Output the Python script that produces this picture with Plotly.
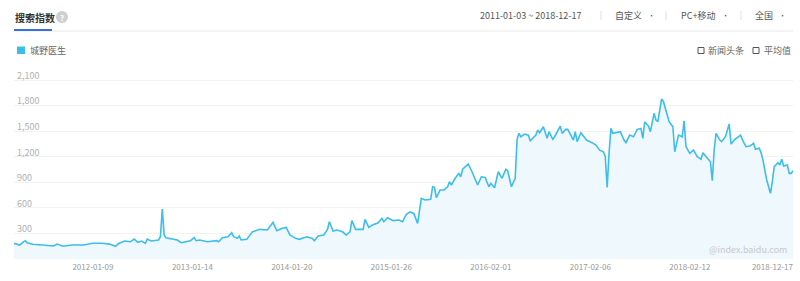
import pandas as pd
import plotly.graph_objects as go

# ---------------- data ----------------
start_date = "2011-01-03"
week_offsets = [0, 3, 5, 6, 7, 10, 15, 21, 23, 26, 31, 37, 42, 47, 51, 54, 56, 59, 62, 64,
                66, 68, 70, 71, 73, 77, 78, 79, 80, 81, 87, 89, 94, 96, 97, 99, 103, 108, 109, 111,
                114, 116, 117, 119, 120, 121, 124, 126, 127, 131, 135, 138, 140, 143, 145, 147, 150, 152, 154, 156,
                159, 160, 162, 165, 167, 168, 170, 172, 175, 177, 179, 180, 182, 186, 187, 189, 191, 194, 196, 197,
                199, 202, 205, 207, 209, 211, 213, 215, 217, 219, 222, 223, 224, 225, 227, 229, 231, 232, 233, 235,
                237, 238, 239, 242, 244, 246, 247, 249, 251, 253, 254, 256, 258, 260, 262, 263, 264, 265, 267, 268,
                269, 270, 272, 274, 275, 278, 279, 280, 282, 283, 284, 285, 287, 288, 291, 292, 294, 295, 296, 298,
                299, 300, 302, 303, 305, 308, 310, 312, 314, 315, 316, 317, 318, 319, 322, 323, 325, 326, 328, 330,
                332, 334, 335, 336, 338, 339, 341, 342, 343, 344, 345, 346, 348, 349, 351, 352, 354, 356, 357, 358,
                360, 362, 364, 366, 367, 369, 371, 372, 373, 374, 376, 377, 379, 381, 382, 384, 386, 387, 389, 390,
                392, 394, 395, 397, 398, 399, 401, 402, 403, 404, 405, 407, 408, 409, 410, 412, 413, 414, 415]
search_index = [183, 163, 201, 214, 190, 171, 163, 151, 174, 148, 163, 163, 183, 183, 174, 148, 183, 210, 201, 233,
                194, 210, 183, 233, 210, 222, 260, 585, 280, 249, 222, 190, 214, 249, 214, 222, 201, 214, 201, 249,
                260, 307, 260, 241, 269, 222, 230, 280, 318, 347, 339, 429, 331, 359, 370, 280, 241, 230, 241, 260,
                241, 214, 269, 280, 347, 436, 328, 339, 318, 280, 318, 449, 347, 347, 464, 370, 398, 424, 476, 436,
                483, 449, 457, 436, 524, 553, 534, 417, 711, 691, 699, 847, 840, 718, 809, 809, 847, 906, 867, 946,
                1004, 964, 1052, 1114, 1023, 926, 867, 964, 957, 847, 887, 835, 1023, 946, 1052, 1034, 926, 847, 946, 1404,
                1474, 1434, 1466, 1453, 1387, 1453, 1512, 1481, 1551, 1493, 1415, 1493, 1404, 1434, 1559, 1474, 1521, 1521, 1474, 1395,
                1493, 1376, 1481, 1453, 1395, 1364, 1336, 1277, 1258, 1199, 840, 1239, 1532, 1474, 1493, 1493, 1395, 1364, 1453, 1434,
                1521, 1532, 1415, 1610, 1559, 1493, 1709, 1630, 1610, 1767, 1877, 1845, 1688, 1610, 1551, 1258, 1453, 1434, 1622, 1317,
                1239, 1277, 1199, 1169, 1246, 1199, 1140, 917, 1277, 1474, 1395, 1376, 1434, 1583, 1348, 1404, 1434, 1453, 1356, 1317,
                1324, 1356, 1286, 1298, 1246, 1160, 926, 828, 770, 906, 1082, 1129, 1102, 1169, 1090, 1102, 1004, 1004, 1034]
series_name = "城野医生"
x_tick_labels = ["2012-01-09", "2013-01-14", "2014-01-20", "2015-01-26",
                 "2016-02-01", "2017-02-06", "2018-02-12", "2018-12-17"]
y_tick_values = [300, 600, 900, 1200, 1500, 1800, 2100]
date_range_text = "2011-01-03 ~ 2018-12-17"

dates = [pd.Timestamp(start_date) + pd.Timedelta(days=7 * w) for w in week_offsets]

# ---------------- styling ----------------
W, H = 800, 281
LINE = "#3dbdeb"
FILL = "#eef8fd"
FONT = "Noto Sans CJK SC, Noto Sans, sans-serif"


def px(x):
    return x / W


def py(y):
    return 1 - y / H


fig = go.Figure()
fig.add_trace(go.Scatter(
    x=dates, y=search_index, mode="lines", name=series_name,
    line=dict(color=LINE, width=1.6), fill="tozeroy", fillcolor=FILL,
    showlegend=False, hoverinfo="x+y"))

# y axis: 0 at y=258.9px, 2100 at y=80px; extend the top a little so the 2,100 label fits
Y_TOP_PX = 66
y_max = 2100 * (258.9 - Y_TOP_PX) / (258.9 - 80)

fig.update_layout(
    width=W, height=H, margin=dict(l=0, r=0, t=0, b=0),
    paper_bgcolor="white", plot_bgcolor="rgba(0,0,0,0)",
    font=dict(family=FONT, color="#999", size=9),
    xaxis=dict(domain=[px(14), px(793)], range=[start_date, "2018-12-17"],
               tickvals=x_tick_labels, ticktext=x_tick_labels,
               ticklabelposition="outside left", showgrid=False, zeroline=False,
               showline=False, ticks="", ticklabelstandoff=2,
               tickfont=dict(size=8, color="#999")),
    yaxis=dict(domain=[py(258.9), py(Y_TOP_PX)], range=[0, y_max],
               tickvals=y_tick_values, tickformat=",",
               ticklabelposition="inside top", ticklabeloverflow="allow",
               showgrid=True, gridcolor="#f2f2f2",
               zeroline=False, showline=False, ticks="", ticklabelshift=2,
               tickfont=dict(size=9, color="#b0b0b0")),
)

shapes = [
    # header underline (gray) and active tab underline (blue)
    dict(type="line", xref="paper", yref="paper", x0=px(14), x1=px(793), y0=py(31), y1=py(31),
         line=dict(color="#e8e8e8", width=1)),
    dict(type="line", xref="paper", yref="paper", x0=px(14), x1=px(52), y0=py(30), y1=py(30),
         line=dict(color="#3a6fd8", width=2)),
    # help icon
    dict(type="circle", xref="paper", yref="paper", x0=px(56), x1=px(68), y0=py(23), y1=py(11),
         fillcolor="#cfcfcf", line=dict(width=0)),
    # legend square
    dict(type="rect", xref="paper", yref="paper", x0=px(17), x1=px(25), y0=py(54), y1=py(46.5),
         fillcolor=LINE, line=dict(width=0)),
    # checkboxes
    dict(type="rect", xref="paper", yref="paper", x0=px(698), x1=px(704), y0=py(53.5), y1=py(47.5),
         fillcolor="white", line=dict(color="#555", width=1)),
    dict(type="rect", xref="paper", yref="paper", x0=px(753), x1=px(759), y0=py(53.5), y1=py(47.5),
         fillcolor="white", line=dict(color="#555", width=1)),
]
# separators in header
for sx in [601, 666, 741]:
    shapes.append(dict(type="line", xref="paper", yref="paper", x0=px(sx), x1=px(sx),
                       y0=py(11), y1=py(20), line=dict(color="#e0e0e0", width=1)))
fig.update_layout(shapes=shapes)


def ann(text, x, y, size, color, xanchor="left", bold=False):
    fig.add_annotation(text=("<b>%s</b>" % text) if bold else text, xref="paper", yref="paper",
                       x=px(x), y=py(y), xanchor=xanchor, yanchor="middle", showarrow=False,
                       font=dict(size=size, color=color, family=FONT))


ann("搜索指数", 13, 17, 10, "#333", bold=True)
ann("?", 62, 17, 8, "white", xanchor="center", bold=True)
ann(date_range_text, 478, 15.5, 9, "#555")
ann("自定义", 613, 15.5, 9, "#555")
ann("•", 651, 15.5, 7, "#555", xanchor="center")
ann("PC+移动", 679, 15.5, 9, "#555")
ann("•", 725, 15.5, 7, "#555", xanchor="center")
ann("全国", 753, 15.5, 9, "#555")
ann("•", 782, 15.5, 7, "#555", xanchor="center")
ann(series_name, 28, 50.5, 9, "#666")
ann("新闻头条", 706, 50.5, 9, "#666")
ann("平均值", 762, 50.5, 9, "#666")
ann("@index.baidu.com", 789, 249, 9, "#c8c8c8", xanchor="right")

fig.write_html("out.html")
